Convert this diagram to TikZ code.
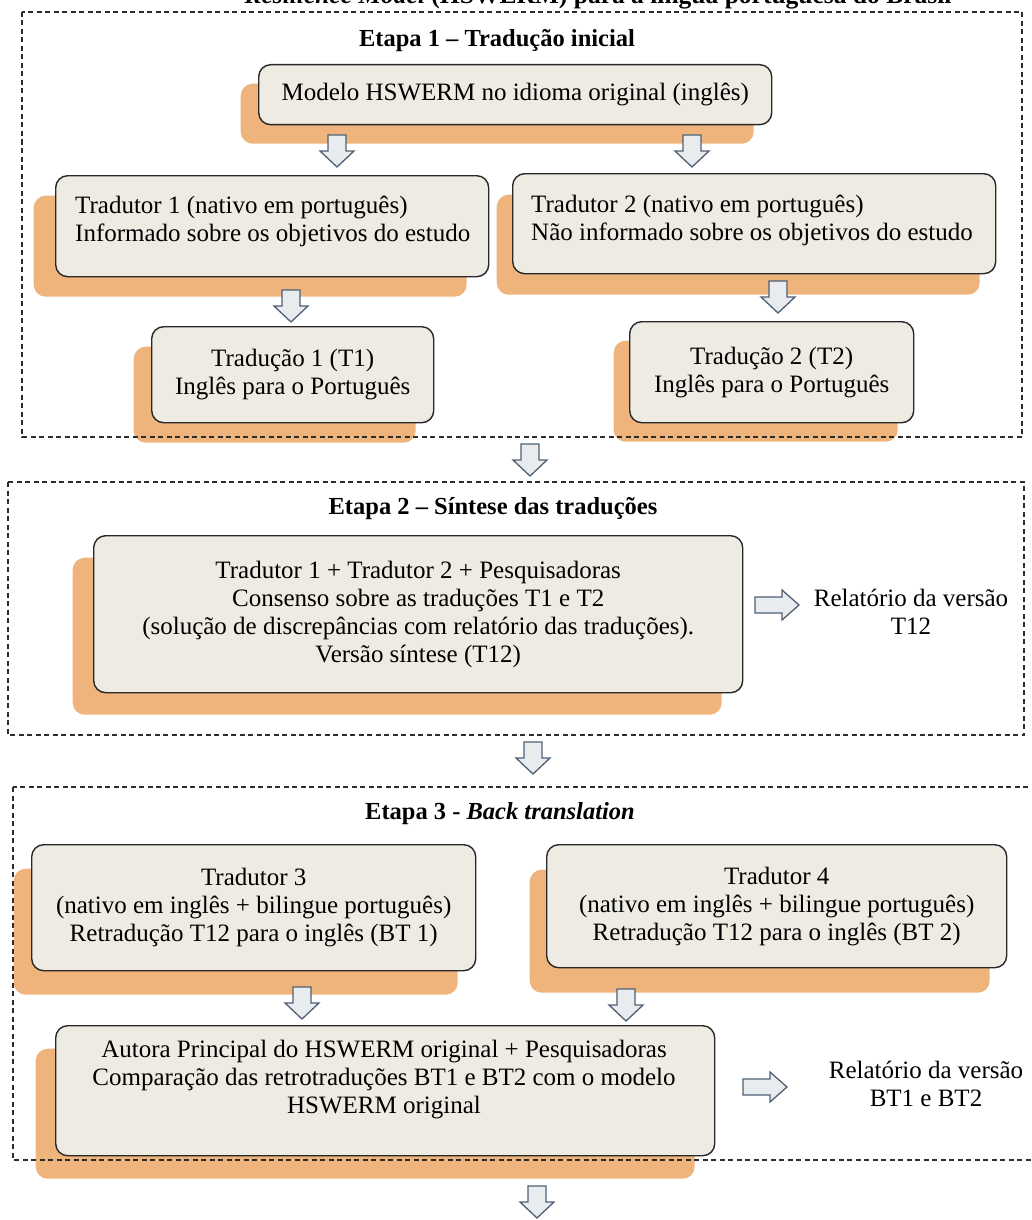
\documentclass[tikz,border=0pt]{standalone}
\usepackage{fontspec}
\setmainfont{Liberation Serif}
\usetikzlibrary{shadows}

\definecolor{boxfill}{RGB}{237,235,226}
\definecolor{boxline}{RGB}{40,40,40}
\definecolor{shadowc}{RGB}{239,180,124}
\definecolor{arrowfill}{RGB}{232,236,238}
\definecolor{arrowline}{RGB}{78,96,118}
\definecolor{frameline}{RGB}{45,45,45}

\tikzset{
  txt/.style={font=\fontsize{25}{28}\selectfont, inner sep=0pt},
  heading/.style={font=\fontsize{24.5}{28}\selectfont\bfseries, inner sep=0pt},
  box/.style={txt, draw=boxline, line width=1.4pt, fill=boxfill,
    rounded corners=12pt, align=center, anchor=north west},
  sh/.style args={#1/#2}{drop shadow={shadow xshift=#1pt, shadow yshift=-#2pt,
    fill=shadowc, opacity=1, draw=none}},
  frame/.style={draw=frameline, line width=1.1pt, dash pattern=on 5pt off 3.5pt},
  blockarrow/.style={draw=arrowline, fill=arrowfill, line width=1.3pt, line join=miter},
  darrow/.pic={\path[blockarrow] (-9,0) -- (9,0) -- (9,16) -- (17,16) -- (0,32)
    -- (-17,16) -- (-9,16) -- cycle;},
  rarrow/.pic={\path[blockarrow] (0,-8) -- (27,-8) -- (27,-15) -- (44,0)
    -- (27,15) -- (27,8) -- (0,8) -- cycle;},
}

\begin{document}
\begin{tikzpicture}[x=1pt, y=-1pt]
\useasboundingbox (0,0) rectangle (1031,1220);
\clip (0,0) rectangle (1031,1220);

% heading of the figure
\node[heading, font=\fontsize{25.5}{28}\selectfont\bfseries, anchor=base] (head) at (598,4)
  {\textit{Resilience Model} (HSWERM) para a língua portuguesa do Brasil};

% ---------------- Etapa 1 ----------------
\node[heading] (t1) at (497,41) {Etapa 1 – Tradução inicial};
\node[box, sh={-18/19}, minimum width=513pt, minimum height=60pt] (modelo) at (258,64)
  {Modelo HSWERM no idioma original (inglês)};
\node[box, sh={-22/20}, minimum width=433pt, minimum height=101pt] (trad1) at (55,175) {};
\node[txt, align=left, anchor=north west] (trad1l) at (75,196)
  {Tradutor 1 (nativo em português)\\Informado sobre os objetivos do estudo};
\node[box, sh={-16/21}, minimum width=483pt, minimum height=100pt] (trad2) at (512,173) {};
\node[txt, align=left, anchor=north west] (trad2l) at (531,195)
  {Tradutor 2 (nativo em português)\\Não informado sobre os objetivos do estudo};
\node[box, sh={-18/20}, minimum width=282pt, minimum height=96pt] (tr1) at (151,326)
  {Tradução 1 (T1)\\Inglês para o Português};
\node[box, sh={-16/19}, minimum width=284pt, minimum height=101pt] (tr2) at (629,321)
  {Tradução 2 (T2)\\Inglês para o Português};

% ---------------- Etapa 2 ----------------
\node[heading] (t2) at (493,509) {Etapa 2 – Síntese das traduções};
\node[box, sh={-21/22}, minimum width=649pt, minimum height=157pt] (sintese) at (93,535)
  {Tradutor 1 + Tradutor 2 + Pesquisadoras\\
   Consenso sobre as traduções T1 e T2\\
   (solução de discrepâncias com relatório das traduções).\\
   Versão síntese (T12)};
\node[txt, align=center] (rel1) at (911,612) {Relatório da versão\\T12};

% ---------------- Etapa 3 ----------------
\node[heading] (t3) at (500,814) {Etapa 3 - \textit{Back translation}};
\node[box, sh={-18/24}, minimum width=444pt, minimum height=126pt] (trad3) at (31,844)
  {Tradutor 3\\(nativo em inglês + bilingue português)\\Retradução T12 para o inglês (BT 1)};
\node[box, sh={-17/25}, minimum width=460pt, minimum height=123pt] (trad4) at (546,844)
  {Tradutor 4\\(nativo em inglês + bilingue português)\\Retradução T12 para o inglês (BT 2)};
\node[box, sh={-20/23}, minimum width=659pt, minimum height=130pt] (autora) at (55,1025) {};
\node[txt, align=center] (autoral) at (384,1080)
  {Autora Principal do HSWERM original + Pesquisadoras\\
   Comparação das retrotraduções BT1 e BT2 com o modelo\\
   HSWERM original};
\node[txt, align=center] (rel2) at (926,1084) {Relatório da versão\\BT1 e BT2};

% dashed stage frames (the third runs past the right edge)
\draw[frame] (22,12) rectangle (1022,437);
\draw[frame] (8,482) rectangle (1024,735);
\draw[frame] (13,787) rectangle (1040,1160);

% block arrows
\pic (a1) at (337,135) {darrow};
\pic (a2) at (692,135) {darrow};
\pic (a3) at (291,290) {darrow};
\pic (a4) at (778,281) {darrow};
\pic (a5) at (530,444) {darrow};
\pic (a6) at (533,742) {darrow};
\pic (a7) at (302,987) {darrow};
\pic (a8) at (626,989) {darrow};
\pic (a9) at (537,1186) {darrow};
\pic (r1) at (755,605) {rarrow};
\pic (r2) at (743,1087) {rarrow};
\end{tikzpicture}
\end{document}
